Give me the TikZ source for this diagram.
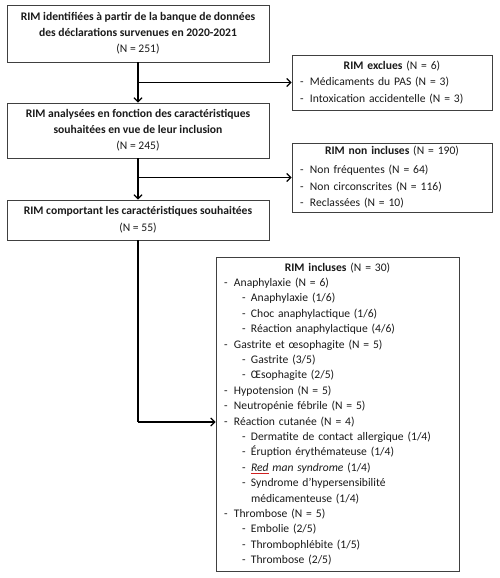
\documentclass[tikz,border=0pt]{standalone}
\usepackage{fontspec}
\setmainfont{Carlito}
\usetikzlibrary{arrows.meta}
\definecolor{boxgray}{HTML}{404040}
\definecolor{txt}{HTML}{1A1A1A}
\definecolor{spellred}{HTML}{D02020}
\newcommand\lia[1]{\par\noindent\makebox[10pt][l]{-}#1}
\newcommand\lib[1]{\par\noindent\hspace*{18pt}\makebox[9pt][l]{-}#1}
\newsavebox\wavebox
\newcommand\redwave[1]{\leavevmode\sbox\wavebox{#1}%
  \rlap{\textcolor{spellred}{\lower2.6pt\hbox to\wd\wavebox{\xleaders\hbox{\vrule width0.9pt height0.45pt depth0pt\raise0.7pt\hbox{\vrule width0.9pt height0.45pt depth0pt}}\hfil}}}%
  \usebox\wavebox}
\tikzset{
  mainbox/.style={draw=boxgray, line width=0.9pt, align=center, inner sep=0pt,
    minimum width=262pt, text=txt, font=\fontsize{11.6}{16}\selectfont},
  listbox/.style={draw=boxgray, line width=0.9pt, inner xsep=8pt, inner ysep=0pt,
    align=left, text=txt, font=\fontsize{11.6}{16.7}\selectfont},
  arr/.style={line width=1.2pt, draw=black, -{Straight Barb[length=4pt,width=8pt,line width=1.2pt]}},
  link/.style={line width=1.2pt, draw=black}
}
\begin{document}
\begin{tikzpicture}[x=1pt,y=-1pt]
\useasboundingbox[fill=white] (0,0) rectangle (500,578);

\node[mainbox, minimum height=57pt] (b1) at (138,33.5)
  {\textbf{RIM identifiées à partir de la banque de données}\\
   \textbf{des déclarations survenues en 2020-2021}\\(N = 251)};
\node[mainbox, minimum height=55pt] (b2) at (138,130.5)
  {\textbf{RIM analysées en fonction des caractéristiques}\\
   \textbf{souhaitées en vue de leur inclusion}\\(N = 245)};
\node[mainbox, minimum height=40pt, font=\fontsize{11.6}{17}\selectfont] (b3) at (138,220)
  {\textbf{RIM comportant les caractéristiques souhaitées}\\(N = 55)};

\node[listbox, text width=184pt, minimum height=55pt] (excl) at (392,82.5)
  {{\centering\textbf{RIM exclues} (N = 6)\par}
   \lia{Médicaments du PAS (N = 3)}
   \lia{Intoxication accidentelle (N = 3)}};

\node[listbox, text width=184pt, minimum height=69pt] (noninc) at (392,177.5)
  {\vspace*{2pt}{\centering\textbf{RIM non incluses} (N = 190)\par}
   \lia{Non fréquentes (N = 64)}
   \lia{Non circonscrites (N = 116)}
   \lia{Reclassées (N = 10)}};

\node[listbox, text width=227pt, minimum height=314pt, font=\fontsize{11.6}{15.4}\selectfont] (incl) at (337.5,414)
  {{\centering\textbf{RIM incluses} (N = 30)\par}
   \lia{Anaphylaxie (N = 6)}
   \lib{Anaphylaxie (1/6)}
   \lib{Choc anaphylactique (1/6)}
   \lib{Réaction anaphylactique (4/6)}
   \lia{Gastrite et œsophagite (N = 5)}
   \lib{Gastrite (3/5)}
   \lib{Œsophagite (2/5)}
   \lia{Hypotension (N = 5)}
   \lia{Neutropénie fébrile (N = 5)}
   \lia{Réaction cutanée (N = 4)}
   \lib{Dermatite de contact allergique (1/4)}
   \lib{Éruption érythémateuse (1/4)}
   \lib{\textit{\redwave{Red} man syndrome} (1/4)}
   \lib{Syndrome d’hypersensibilité}
   \par\noindent\hspace*{27pt}médicamenteuse (1/4)
   \lia{Thrombose (N = 5)}
   \lib{Embolie (2/5)}
   \lib{Thrombophlébite (1/5)}
   \lib{Thrombose (2/5)}};

\draw[arr] (b1.south) -- (b2.north);
\draw[arr] (b1.south |- excl.west) -- (excl.west);
\draw[arr] (b2.south) -- (b3.north);
\draw[arr] (b2.south |- noninc.west) -- (noninc.west);
\coordinate (turn) at (138,422);
\draw[link] (b3.south) -- (turn);
\draw[arr] (turn) -- (turn -| incl.west);
\end{tikzpicture}
\end{document}
